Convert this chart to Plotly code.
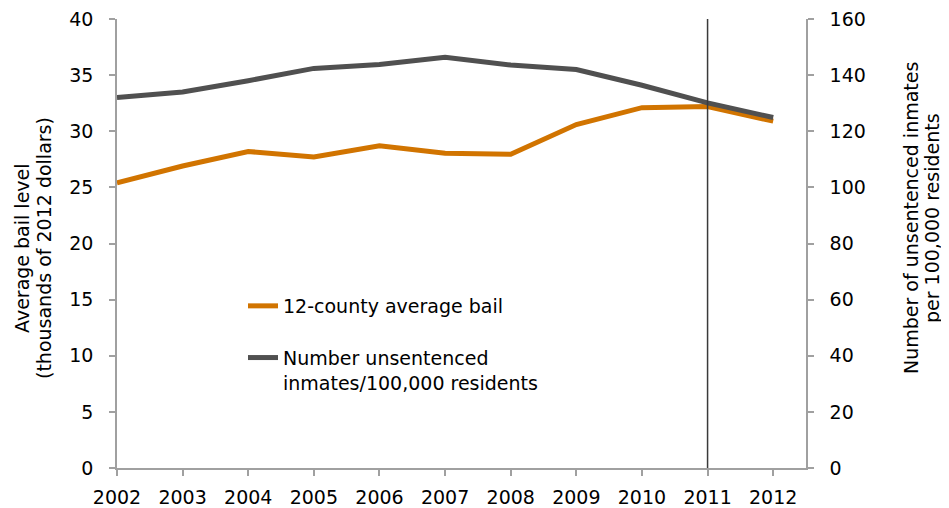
import plotly.graph_objects as go

years = [2002, 2003, 2004, 2005, 2006, 2007, 2008, 2009, 2010, 2011, 2012]
avg_bail = [25.4, 26.9, 28.2, 27.7, 28.7, 28.05, 27.95, 30.6, 32.1, 32.2, 30.9]
unsentenced_rate = [132.0, 134.0, 138.0, 142.4, 143.8, 146.4, 143.6, 142.0, 136.4, 130.1, 124.9]

left_ticks = [0, 5, 10, 15, 20, 25, 30, 35, 40]
right_ticks = [0, 20, 40, 60, 80, 100, 120, 140, 160]
marker_year = 2011

left_title = ["Average bail level", "(thousands of 2012 dollars)"]
right_title = ["Number of unsentenced inmates", "per 100,000 residents"]

ORANGE = "#D17400"
GREY = "#505050"
AXIS = "#A0A0A0"
FONT = "DejaVu Sans, Liberation Sans, Arial, sans-serif"
FS = 19

fig = go.Figure()
fig.add_trace(go.Scatter(
    x=years, y=avg_bail, mode="lines", name="12-county average bail",
    line=dict(color=ORANGE, width=5), legendgroup="a", yaxis="y"))
fig.add_trace(go.Scatter(
    x=years, y=unsentenced_rate, mode="lines",
    name="Number unsentenced<br>inmates/100,000 residents",
    line=dict(color=GREY, width=5), legendgroup="b", yaxis="y2"))

fig.add_shape(type="line", xref="x", yref="paper", x0=marker_year, x1=marker_year,
              y0=0, y1=1, line=dict(color="#3A3A3A", width=1.5), layer="above")

# page body has an 8px margin: the figure is sized/offset so the plot sits where the reference's does
PX0, PY0, PW, PH = 117, 19, 689, 449  # plot area in screen pixels


def px_x(X):
    return (X - PX0) / PW


def px_y(Y):
    return (PY0 + PH - Y) / PH


annotations = []
for txt, X, Y in [(left_title[0], 22, 248), (left_title[1], 44, 248),
                  (right_title[0], 911, 218), (right_title[1], 932, 218)]:
    annotations.append(dict(text=txt, textangle=-90, xref="paper", yref="paper",
                            x=px_x(X), y=px_y(Y), xanchor="center", yanchor="middle",
                            showarrow=False, font=dict(size=FS, family=FONT, color="black")))

axis_common = dict(showline=True, linecolor=AXIS, linewidth=1.5, ticks="outside",
                   ticklen=6, tickcolor=AXIS, tickwidth=1.5, showgrid=False,
                   zeroline=False, ticklabeloverflow="allow", automargin=False,
                   tickfont=dict(size=FS, family=FONT, color="black"))

fig.update_layout(
    width=941, height=500,
    margin=dict(l=PX0 - 8, r=941 - (PX0 - 8 + PW), t=PY0 - 8, b=500 - (PY0 - 8 + PH),
                autoexpand=False),
    paper_bgcolor="white", plot_bgcolor="white",
    font=dict(family=FONT, size=FS, color="black"),
    showlegend=True,
    legend=dict(x=px_x(243), y=px_y(287), xanchor="left", yanchor="top",
                bgcolor="rgba(0,0,0,0)", font=dict(size=FS, family=FONT),
                traceorder="grouped", tracegroupgap=24, valign="top"),
    xaxis=dict(range=[2002, 2012.5], tickvals=years, ticktext=[str(y) for y in years],
               ticklabelstandoff=5, **axis_common),
    yaxis=dict(range=[0, 40], tickvals=left_ticks, ticklabelstandoff=12, **axis_common),
    yaxis2=dict(range=[0, 160], tickvals=right_ticks, overlaying="y", side="right",
                ticklabelstandoff=12, **axis_common),
    annotations=annotations,
)

fig.write_html("out.html")
